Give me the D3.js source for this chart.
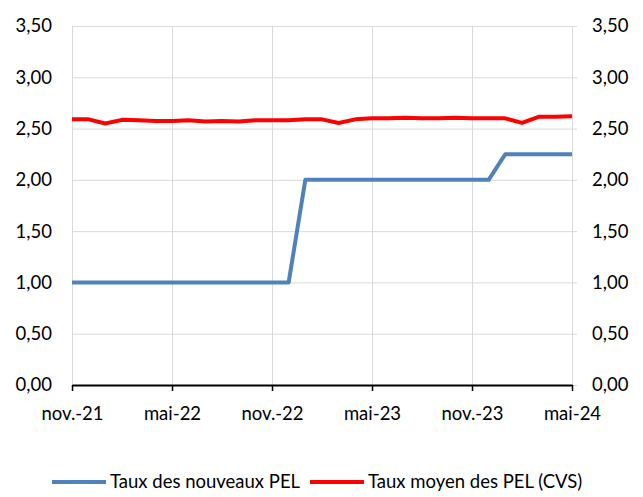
<!DOCTYPE html>
<meta charset="utf-8">
<style>
body { margin: 0; background: #fff; }
svg { font-family: Lato, "Open Sans", sans-serif; }
.grid line { stroke: #d9d9d9; stroke-width: 1px; }
.grid path { display: none; }
.ylab text { font-size: 18.5px; fill: #000; }
.xaxis text { font-size: 18.5px; fill: #000; }
.legend text { font-size: 18.5px; fill: #000; }
</style>
<svg width="643" height="497"></svg>
<script src="https://d3js.org/d3.v7.min.js"></script>
<script>
// months, Nov 2021 -> May 2024
var months = ["2021-11","2021-12","2022-01","2022-02","2022-03","2022-04","2022-05","2022-06",
  "2022-07","2022-08","2022-09","2022-10","2022-11","2022-12","2023-01","2023-02","2023-03",
  "2023-04","2023-05","2023-06","2023-07","2023-08","2023-09","2023-10","2023-11","2023-12",
  "2024-01","2024-02","2024-03","2024-04","2024-05"];

var tauxNouveaux = [1.00,1.00,1.00,1.00,1.00,1.00,1.00,1.00,1.00,1.00,1.00,1.00,1.00,1.00,
  2.00,2.00,2.00,2.00,2.00,2.00,2.00,2.00,2.00,2.00,2.00,2.00,
  2.25,2.25,2.25,2.25,2.25];

var tauxMoyen = [2.59,2.59,2.55,2.585,2.58,2.575,2.575,2.58,2.57,2.575,2.57,2.58,2.58,2.58,
  2.59,2.59,2.555,2.59,2.60,2.60,2.605,2.60,2.60,2.605,2.60,2.60,2.60,2.555,2.615,2.615,2.62];

var yTicks = [0,0.5,1,1.5,2,2.5,3,3.5];
var moisFr = ["janv.","févr.","mars","avr.","mai","juin","juil.","août","sept.","oct.","nov.","déc."];

var series = [
  {name: "Taux des nouveaux PEL", values: tauxNouveaux, color: "#4f81bd"},
  {name: "Taux moyen des PEL (CVS)", values: tauxMoyen, color: "#ff0000"}
];

var svg = d3.select("svg");
var pLeft = 72, pRight = 572, pTop = 26, pBottom = 385;

var x = d3.scalePoint().domain(months).range([pLeft, pRight]);
var y = d3.scaleLinear().domain([0, 3.5]).range([pBottom, pTop]);

var fmtY = function(d) { return d3.format(".2f")(d).replace(".", ","); };
var fmtX = function(m) {
  var p = m.split("-");
  return moisFr[+p[1] - 1] + "-" + p[0].slice(2);
};
var xTickVals = months.filter(function(d, i) { return i % 6 === 0; });

// horizontal grid
svg.append("g")
  .attr("class", "grid")
  .attr("transform", "translate(" + pLeft + ",0)")
  .call(d3.axisRight(y).tickValues(yTicks).tickSize(pRight - pLeft).tickFormat(""));

// vertical grid (incl. left and right edges)
svg.append("g")
  .attr("class", "grid")
  .attr("transform", "translate(0," + pTop + ")")
  .call(d3.axisBottom(x).tickValues(xTickVals).tickSize(pBottom - pTop).tickFormat(""));

// right axis ticks (outside)
svg.append("g")
  .attr("class", "grid")
  .attr("transform", "translate(" + pRight + ",0)")
  .call(d3.axisRight(y).tickValues(yTicks).tickSize(5).tickFormat(""));

// left labels
svg.append("g")
  .attr("class", "ylab")
  .selectAll("text")
  .data(yTicks).enter().append("text")
    .attr("x", 52)
    .attr("y", function(d) { return y(d); })
    .attr("dy", "0.35em")
    .attr("text-anchor", "end")
    .text(fmtY);

// right labels
svg.append("g")
  .attr("class", "ylab")
  .selectAll("text")
  .data(yTicks).enter().append("text")
    .attr("x", 592)
    .attr("y", function(d) { return y(d); })
    .attr("dy", "0.35em")
    .text(fmtY);

// bottom axis
var xAxis = svg.append("g")
  .attr("class", "xaxis")
  .attr("transform", "translate(0," + pBottom + ")")
  .call(d3.axisBottom(x).tickValues(xTickVals).tickSize(6).tickSizeOuter(0).tickPadding(16).tickFormat(fmtX));
xAxis.attr("font-family", null).attr("font-size", null);
xAxis.select(".domain").attr("stroke", "#000").attr("stroke-width", 2);
xAxis.selectAll(".tick line").attr("stroke", "#000").attr("stroke-width", 1.5);

var line = d3.line()
  .x(function(d, i) { return x(months[i]); })
  .y(function(d) { return y(d); });

svg.append("g").selectAll("path")
  .data(series).enter().append("path")
    .attr("fill", "none")
    .attr("stroke", function(d) { return d.color; })
    .attr("stroke-width", 4)
    .attr("stroke-linejoin", "round")
    .attr("d", function(d) { return line(d.values); });

// legend
var leg = svg.append("g").attr("class", "legend");
var legX = [52, 310];
series.forEach(function(s, i) {
  leg.append("line")
    .attr("x1", legX[i]).attr("x2", legX[i] + 54)
    .attr("y1", 482).attr("y2", 482)
    .attr("stroke", s.color).attr("stroke-width", 4);
  leg.append("text")
    .attr("x", legX[i] + 58)
    .attr("y", 482)
    .attr("dy", "0.35em")
    .text(s.name);
});
</script>
